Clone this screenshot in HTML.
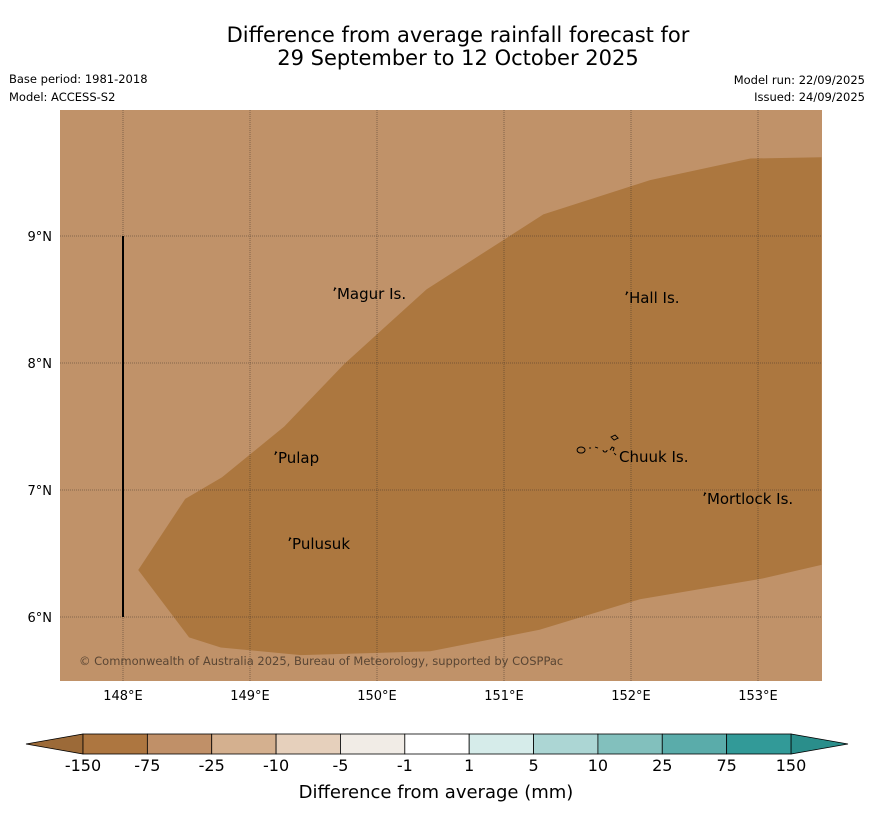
<!DOCTYPE html>
<html><head><meta charset="utf-8">
<style>
body{margin:0;background:#fff;width:873px;height:816px;overflow:hidden;font-family:"Liberation Sans","DejaVu Sans",sans-serif;}
svg text{font-family:"DejaVu Sans","Liberation Sans",sans-serif;}
</style></head>
<body>
<svg id="chart" width="873" height="816" xmlns="http://www.w3.org/2000/svg">
<text x="458" y="42" font-size="21" text-anchor="middle">Difference from average rainfall forecast for</text>
<text x="458" y="65" font-size="21" text-anchor="middle">29 September to 12 October 2025</text>
<text x="9" y="83" font-size="11.5">Base period: 1981-2018</text>
<text x="9" y="101" font-size="11.5">Model: ACCESS-S2</text>
<text x="865" y="84" font-size="11.5" text-anchor="end">Model run: 22/09/2025</text>
<text x="865" y="101" font-size="11.5" text-anchor="end">Issued: 24/09/2025</text>
<g id="map"></g>
<g id="cbar"></g>
<text x="436" y="798" font-size="18" text-anchor="middle">Difference from average (mm)</text>
</svg>
<script>
const lonTicks=[148,149,150,151,152,153];
const latTicks=[9,8,7,6];
const anomalyLon=[148.12,148.49,148.78,149.27,149.74,150.39,151.31,152.15,152.94,153.5,153.5,153.02,152.07,151.28,150.42,149.4,148.77,148.52];
const anomalyLat=[6.37,6.93,7.1,7.5,7.99,8.58,9.17,9.44,9.61,9.62,6.41,6.3,6.14,5.9,5.73,5.7,5.76,5.84];
const islandNames=["Magur Is.","Hall Is.","Pulap","Chuuk Is.","Mortlock Is.","Pulusuk"];
const islandLon=[149.685,151.984,149.22,151.906,152.598,149.331];
const islandLat=[8.504,8.472,7.213,7.22,6.89,6.536];
const cbarLabels=["-150","-75","-25","-10","-5","-1","1","5","10","25","75","150"];
const cbarColors=["#ad7640","#c09068","#d4b08f","#e6d0bc","#f1ece6","#ffffff","#d6ecea","#acd6d4","#82c0bd","#5aacaa","#329a98"];
const NS="http://www.w3.org/2000/svg";
const X0=60,X1=822,Y0=110,Y1=681;
const xs=lon=>123+(lon-148)*127;
const ys=lat=>236-(lat-9)*127;
function mk(tag,attrs,parent){const e=document.createElementNS(NS,tag);for(const k in attrs)e.setAttribute(k,attrs[k]);parent.appendChild(e);return e;}
const map=document.getElementById('map');
const bg=mk('rect',{x:X0,y:Y0,width:X1-X0,height:Y1-Y0,fill:'#c09269'},map);


const pts=anomalyLon.map((l,i)=>xs(l)+','+ys(anomalyLat[i])).join(' ');
const poly=mk('polygon',{points:pts,fill:'#ac773f'},map);


lonTicks.forEach(l=>{const x=xs(l);
 const g=mk('line',{x1:x,x2:x,y1:Y0,y2:Y1,stroke:'#3a3028','stroke-width':0.8,'stroke-dasharray':'1,1','stroke-opacity':0.6},map);
 
 
 const t=mk('text',{x:x,y:700,'font-size':13,'text-anchor':'middle'},map);t.textContent=l+'°E';
 
 });
latTicks.forEach(l=>{const y=ys(l);
 const g=mk('line',{x1:X0,x2:X1,y1:y,y2:y,stroke:'#3a3028','stroke-width':0.8,'stroke-dasharray':'1,1','stroke-opacity':0.6},map);
 
 
 const t=mk('text',{x:52,y:y+5,'font-size':13,'text-anchor':'end'},map);t.textContent=l+'°N';
 
 });
const vl=mk('line',{x1:xs(148),x2:xs(148),y1:ys(9),y2:ys(6),stroke:'#000','stroke-width':2},map);


islandNames.forEach((n,i)=>{const x=xs(islandLon[i]),y=ys(islandLat[i]);
 let m;
 if(n.startsWith('Chuuk')){
  m=mk('path',{d:`M${x-42},${y-12} a4,3 0 1,0 8,0 a4,3 0 1,0 -8,0 M${x-30},${y-14} l2,0 M${x-24},${y-15} l3,1 M${x-16},${y-12} a2,2 0 1,0 4,0 M${x-9},${y-12} l2,-3 l2,1 l-1,3 M${x-8},${y-25} l4,-2 l3,3 l-4,2 z M${x-5},${y-9} l2,2`,stroke:'#000','stroke-width':1,fill:'none'},map);
 } else {
  m=mk('path',{d:`M${x-3},${y-8} l1,-3 l1,1`,stroke:'#000','stroke-width':1.2,fill:'none'},map);
 }
 
 
 const t=mk('text',{x:x,y:y,'font-size':15},map);t.textContent=n;
 
 });
const cr=mk('text',{x:79,y:665,'font-size':11.5,fill:'#5a4634'},map);cr.textContent='© Commonwealth of Australia 2025, Bureau of Meteorology, supported by COSPPac';


const cb=document.getElementById('cbar');
const CB0=83,CB1=791,CT=734,CBt=754,w=(CB1-CB0)/cbarColors.length;
const la=mk('polygon',{points:`26,744 ${CB0},${CT} ${CB0},${CBt}`,fill:'#9c6a38',stroke:'#000','stroke-width':0.8},cb);


const ra=mk('polygon',{points:`848,744 ${CB1},${CT} ${CB1},${CBt}`,fill:'#2a8e8b',stroke:'#000','stroke-width':0.8},cb);


cbarColors.forEach((c,i)=>{const r=mk('rect',{x:CB0+i*w,y:CT,width:w,height:CBt-CT,fill:c,stroke:'#000','stroke-width':0.8},cb);
 
 });
cbarLabels.forEach((l,i)=>{const t=mk('text',{x:CB0+i*w,y:771,'font-size':16,'text-anchor':'middle'},cb);t.textContent=l;
 
 });
</script>
</body></html>
